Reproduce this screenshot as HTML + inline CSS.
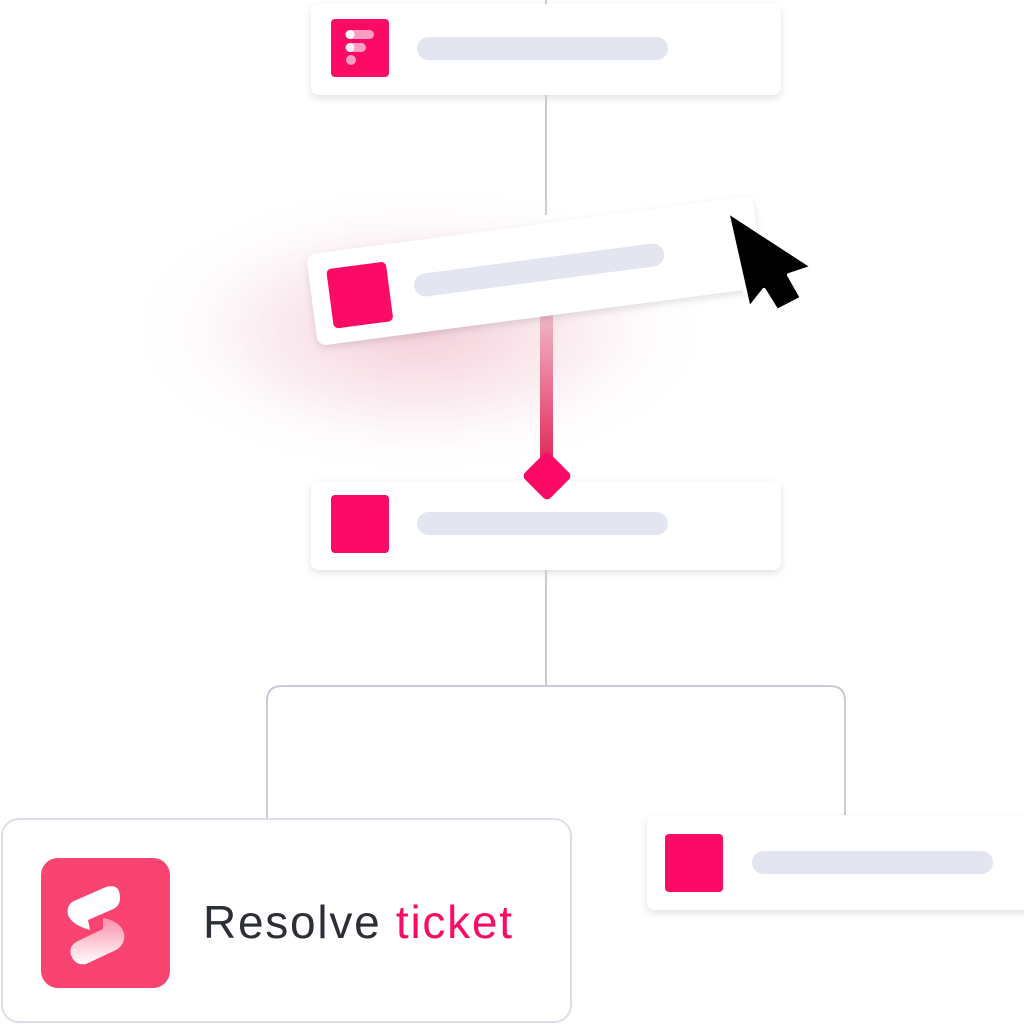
<!DOCTYPE html>
<html><head><style>
html,body{margin:0;padding:0;background:#fff;width:1024px;height:1024px;overflow:hidden}
</style></head><body>
<svg width="1024" height="1024" viewBox="0 0 1024 1024" xmlns="http://www.w3.org/2000/svg">
<defs>
<filter id="sh" x="-10%" y="-30%" width="120%" height="170%"><feDropShadow dx="0" dy="3" stdDeviation="4" flood-color="#000" flood-opacity="0.12"/></filter>
<radialGradient id="glow" cx="0.5" cy="0.5" r="0.5"><stop offset="0" stop-color="#f0b8c8" stop-opacity="0.7"/><stop offset="0.5" stop-color="#f3c9d4" stop-opacity="0.35"/><stop offset="1" stop-color="#fff" stop-opacity="0"/></radialGradient>
<linearGradient id="pg" x1="0" y1="0" x2="0" y2="1"><stop offset="0" stop-color="#f2c6d2"/><stop offset="1" stop-color="#e22a5c"/></linearGradient>
<linearGradient id="sg" x1="0" y1="0" x2="0" y2="1"><stop offset="0" stop-color="#fff" stop-opacity="0.4"/><stop offset="1" stop-color="#fff"/></linearGradient>
</defs>
<line x1="546" y1="0" x2="546" y2="4" stroke="#c9ccd8" stroke-width="2"/>
<rect x="311" y="4" width="470" height="91" rx="8" fill="#fff" filter="url(#sh)"/>
<rect x="331" y="19" width="58" height="58" rx="4" fill="#fb0a66"/>
<rect x="346" y="30" width="28" height="9" rx="4.5" fill="#fff" opacity="0.6"/>
<rect x="346" y="43" width="20" height="9" rx="4.5" fill="#fff" opacity="0.6"/>
<circle cx="351" cy="60" r="5" fill="#fff" opacity="0.6"/>
<circle cx="350" cy="34.5" r="4.5" fill="#fff"/><circle cx="350" cy="47.5" r="4.5" fill="#fff" opacity="0.85"/>
<rect x="417" y="37" width="251" height="23" rx="11.5" fill="#e3e5f0"/>
<line x1="546" y1="95" x2="546" y2="215" stroke="#c9ccd8" stroke-width="2"/>
<ellipse cx="420" cy="330" rx="300" ry="150" fill="url(#glow)"/>
<rect x="540" y="300" width="13" height="160" fill="url(#pg)"/>
<g transform="rotate(-7.5 535 270)">
<rect x="310" y="225" width="450" height="92" rx="9" fill="#fff" filter="url(#sh)"/>
<rect x="328" y="242" width="60" height="60" rx="5" fill="#fb0a66"/>
<rect x="413" y="259" width="252" height="23" rx="11.5" fill="#e3e5f0"/>
</g>
<polygon points="727,211 813,267 789,275 802,298 777,311 764,290 749,309" fill="#000" stroke="#fff" stroke-width="4" stroke-linejoin="round"/>
<rect x="311" y="481" width="470" height="89" rx="8" fill="#fff" filter="url(#sh)"/>
<rect x="331" y="495" width="58" height="58" rx="4" fill="#fb0a66"/>
<rect x="417" y="512" width="251" height="23" rx="11.5" fill="#e3e5f0"/>
<rect x="529" y="458" width="36" height="36" rx="5" fill="#fb0a66" transform="rotate(45 547 476)"/>
<line x1="546" y1="570" x2="546" y2="686" stroke="#c9ccd8" stroke-width="2"/>
<path d="M267 818 V701 Q267 686 282 686 H830 Q845 686 845 701 V815" fill="none" stroke="#c9ccd8" stroke-width="2"/>
<rect x="2" y="819" width="569" height="203" rx="17" fill="#fff" stroke="#dcdfea" stroke-width="2"/>
<rect x="41" y="858" width="129" height="130" rx="17" fill="#f94472"/>
<path d="M74 901 L106 887 Q120 883 120 898 Q120 907 111 910 L88 920 L90 930 Q72 925 68 915 Q66 905 74 901Z" fill="#fff"/>
<path d="M103 918 Q120 921 124 933 Q126 944 116 950 L86 964 Q75 966 71 955 Q68 945 80 940 L103 929Z" fill="url(#sg)"/>
<text x="203" y="938" font-family="'Liberation Sans',sans-serif" font-size="46" fill="#2d2f36" textLength="309" lengthAdjust="spacing">Resolve <tspan fill="#fb0a66">ticket</tspan></text>
<rect x="647" y="815" width="390" height="95" rx="8" fill="#fff" filter="url(#sh)"/>
<rect x="665" y="834" width="58" height="58" rx="4" fill="#fb0a66"/>
<rect x="752" y="851" width="241" height="23" rx="11.5" fill="#e3e5f0"/>
</svg>
</body></html>
